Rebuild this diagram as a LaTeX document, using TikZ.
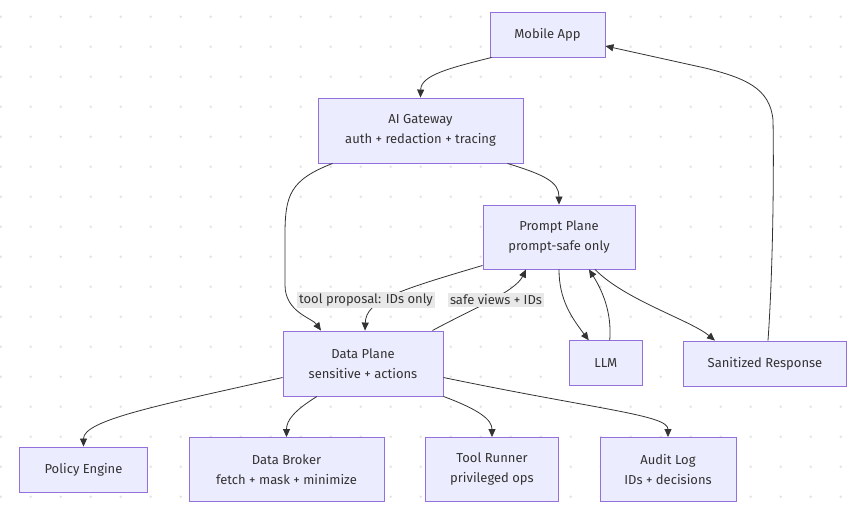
\documentclass[tikz,border=0pt]{standalone}
\usepackage{fontspec}
\setmainfont{Fira Sans}
\usetikzlibrary{arrows.meta}
\definecolor{nodefill}{HTML}{ECECFF}
\definecolor{nodeline}{HTML}{9370DB}
\definecolor{edgecol}{HTML}{333333}
\definecolor{labelbg}{HTML}{E8E8E8}
\definecolor{dotcol}{HTML}{E3E3E3}
\definecolor{txt}{HTML}{333333}
\tikzset{
  box/.style={draw=nodeline, fill=nodefill, line width=0.9pt, rectangle, inner sep=0pt,
    align=center, text=txt, font=\fontsize{13}{20}\selectfont},
  elabel/.style={fill=labelbg, inner xsep=2pt, inner ysep=2pt, text=txt,
    font=\fontsize{13}{16}\selectfont},
  conn/.style={draw=edgecol, line width=0.8pt, -{Triangle[length=8pt,width=7pt]}},
}
\begin{document}
\begin{tikzpicture}[x=1pt,y=-1pt]
\useasboundingbox (0,0) rectangle (860,520);
\fill[white] (0,0) rectangle (860,520);
\foreach \i in {0,...,28}{
  \foreach \j in {0,...,17}{
    \fill[dotcol] (0.7+30*\i,16.7+30*\j) circle (1.4pt);
  }
}
% nodes
\node[box, minimum width=115pt, minimum height=45pt] (app) at (547.5,34.5) {Mobile App};
\node[box, minimum width=205pt, minimum height=65pt] (gw) at (420.5,130.5) {AI Gateway\\auth + redaction + tracing};
\node[box, minimum width=152pt, minimum height=64pt] (pp) at (559,237) {Prompt Plane\\prompt-safe only};
\node[box, minimum width=160pt, minimum height=65pt] (dp) at (363,363.5) {Data Plane\\sensitive + actions};
\node[box, minimum width=73pt, minimum height=45pt] (llm) at (605.75,363.25) {LLM};
\node[box, minimum width=163pt, minimum height=45pt] (san) at (765,363.5) {Sanitized Response};
\node[box, minimum width=128pt, minimum height=45pt] (pol) at (83.5,469.5) {Policy Engine};
\node[box, minimum width=195pt, minimum height=64pt] (brk) at (286.5,469.5) {Data Broker\\fetch + mask + minimize};
\node[box, minimum width=133pt, minimum height=64pt] (tool) at (492,469.5) {Tool Runner\\privileged ops};
\node[box, minimum width=136pt, minimum height=64pt] (aud) at (668,469.5) {Audit Log\\IDs + decisions};
% connectors
\draw[conn] ([xshift=2pt]app.south west) .. controls (450,68) and (421,75) .. (gw.north);
\draw[conn] ([xshift=-16pt]gw.south east) .. controls (545,175) and (559,182) .. (pp.north);
\draw[conn] ([xshift=15pt]gw.south west) .. controls (290,180) and (285,195) .. (285,235) -- (285,285) .. controls (285,312) and (312,318) .. ([xshift=-42pt]dp.north);
\draw[conn] ([yshift=4pt]pp.south west) .. controls (400,290) and (366,300) .. ([xshift=2pt]dp.north);
\draw[conn] ([xshift=-11pt]dp.north east) .. controls (470,310) and (515,292) .. ([xshift=-33pt]pp.south);
\draw[conn] (pp.south) .. controls (559,300) and (572,318) .. ([xshift=-17pt]llm.north);
\draw[conn] ([xshift=4pt]llm.north) .. controls (612,312) and (602,290) .. ([xshift=30pt]pp.south);
\draw[conn] ([xshift=36pt]pp.south) .. controls (625,300) and (690,320) .. ([xshift=-50pt]san.north);
\draw[conn] ([xshift=3pt]san.north) .. controls (773,270) and (774,170) .. (773,120) .. controls (770,88) and (745,78) .. (705,68) -- ([yshift=-11.5pt]app.east);
\draw[conn] ([yshift=-14pt]dp.west) .. controls (160,405) and (83.5,420) .. (pol.north);
\draw[conn] ([xshift=-46pt]dp.south) .. controls (295,410) and (286.5,420) .. (brk.north);
\draw[conn] (dp.south east) .. controls (480,410) and (492,420) .. (tool.north);
\draw[conn] ([yshift=-14pt]dp.east) .. controls (600,410) and (668,415) .. (aud.north);
% edge labels
\node[elabel] (l1) at (366,300) {tool proposal: IDs only};
\node[elabel] (l2) at (496,300) {safe views + IDs};
\end{tikzpicture}
\end{document}
